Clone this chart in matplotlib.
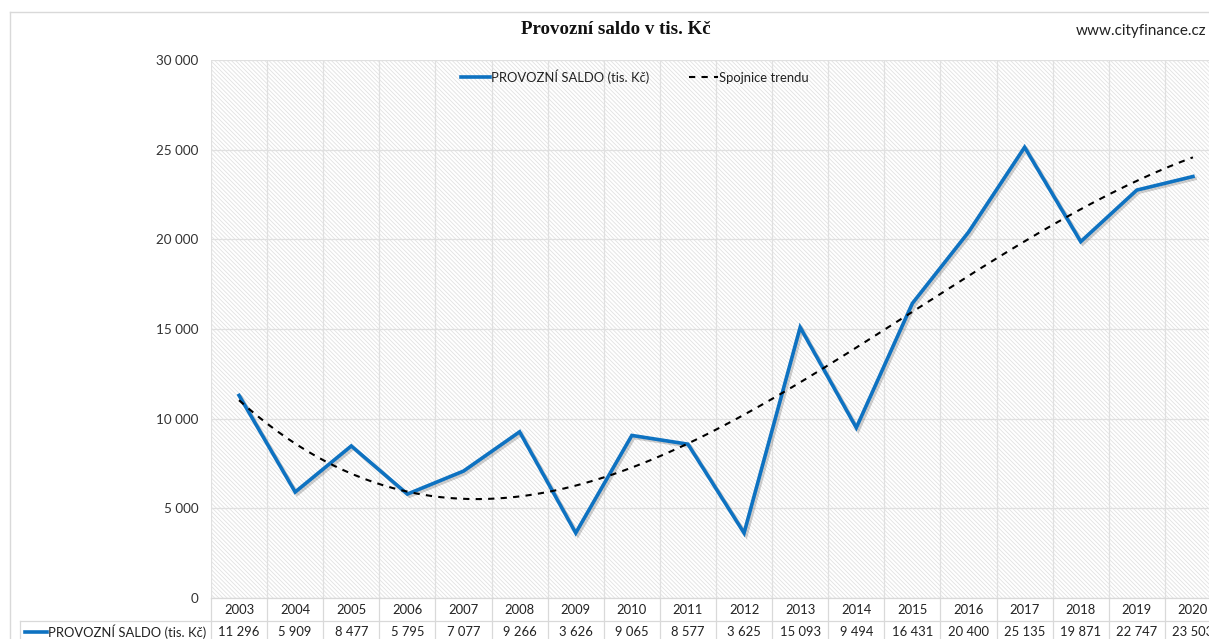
import numpy as np
import matplotlib
matplotlib.use("Agg")
import matplotlib.pyplot as plt
import matplotlib.patheffects as pe
from matplotlib.lines import Line2D

years = ["2003", "2004", "2005", "2006", "2007", "2008", "2009", "2010", "2011",
         "2012", "2013", "2014", "2015", "2016", "2017", "2018", "2019", "2020"]
saldo = [11296, 5909, 8477, 5795, 7077, 9266, 3626, 9065, 8577,
         3625, 15093, 9494, 16431, 20400, 25135, 19871, 22747, 23503]
series_label = "PROVOZNÍ SALDO (tis. Kč)"
trend_label = "Spojnice trendu"
title = "Provozní saldo v tis. Kč"
source = "www.cityfinance.cz"
yticks = [0, 5000, 10000, 15000, 20000, 25000, 30000]

W, H = 1209, 639
plt.rcParams['font.family'] = ['Lato', 'DejaVu Sans']
plt.rcParams['hatch.linewidth'] = 0.6
plt.rcParams['hatch.color'] = '#e2e2e2'

fig = plt.figure(figsize=(W / 100, H / 100), dpi=100)
fig.patch.set_facecolor('white')

def fx(px):
    return px / W

def fy(py):
    return 1 - py / H

left, right, top, bottom = 211, 1221, 60, 598
ax = fig.add_axes([fx(left), fy(bottom), fx(right - left), (bottom - top) / H])
ax.set_facecolor('white')
ax.patch.set_hatch('\\' * 8)
ax.patch.set_edgecolor('#e2e2e2')
ax.patch.set_linewidth(0)

n = len(years)
x = np.arange(n)
ax.set_xlim(-0.5, n - 0.5)
ax.set_ylim(0, 30000)

# grid
for b in np.arange(-0.5, n, 1.0):
    ax.axvline(b, color='#e0e0e0', lw=0.9, zorder=1)
for t in yticks:
    ax.axhline(t, color='#e0e0e0', lw=0.9, zorder=1)

for s in ax.spines.values():
    s.set_visible(False)
ax.set_xticks([])
ax.set_yticks(yticks)
ax.set_yticklabels([f"{t:,}".replace(",", " ") for t in yticks], fontsize=9.7, color='#333333')
ax.tick_params(axis='y', length=0, pad=9)

# data line with shadow
ax.plot(x, saldo, color='#0E72C1', lw=2.6, solid_joinstyle='miter', zorder=4,
        path_effects=[pe.SimpleLineShadow(offset=(1.5, -1.5), shadow_color='black', alpha=0.18),
                      pe.Normal()])

# polynomial trend line (Excel-style polynomial trendline)
coef = np.polyfit(x, saldo, 3)
xs = np.linspace(0, n - 1, 200)
ax.plot(xs, np.polyval(coef, xs), color='black', lw=1.5, ls=(0, (3, 3)), zorder=5)

# legend
handles = [Line2D([], [], color='#0E72C1', lw=2.6),
           Line2D([], [], color='black', lw=1.5, ls=(0, (3, 3)))]
leg = ax.legend(handles, [series_label, trend_label], loc='upper center', ncol=2,
                bbox_to_anchor=((635 - left) / (right - left), 1.0),
                frameon=False, fontsize=9.4, handlelength=2.2, handletextpad=0.1,
                columnspacing=3.0, borderaxespad=0.3)
for t in leg.get_texts():
    t.set_color('#222222')

# title and source
fig.text(fx(616), fy(30), title, ha='center', va='center', fontsize=13.6,
         fontweight='bold', family='Liberation Serif', color='#111111')
fig.text(fx(1076), fy(31), source, ha='left', va='center', fontsize=11, color='#222222')

# chart border
fig.add_artist(Line2D([fx(10), 1.0], [fy(12), fy(12)], color='#d9d9d9', lw=1))
fig.add_artist(Line2D([fx(10), fx(10)], [fy(12), 0], color='#d9d9d9', lw=1))

# data table
cw = (right - left) / n
row1_top, row_mid, row2_bot = 598, 621, 645
lc = '#d9d9d9'
for i in range(n + 1):
    xp = left + i * cw
    fig.add_artist(Line2D([fx(xp), fx(xp)], [fy(row1_top), fy(row2_bot)], color=lc, lw=0.9))
fig.add_artist(Line2D([fx(20), fx(20)], [fy(row_mid), fy(row2_bot)], color=lc, lw=0.9))
fig.add_artist(Line2D([fx(left), fx(right)], [fy(row1_top), fy(row1_top)], color=lc, lw=0.9))
fig.add_artist(Line2D([fx(20), fx(right)], [fy(row_mid), fy(row_mid)], color=lc, lw=0.9))
for i in range(n):
    xc = left + (i + 0.5) * cw
    fig.text(fx(xc), fy(610), years[i], ha='center', va='center', fontsize=9.4, color='#222222')
    fig.text(fx(xc), fy(632), f"{saldo[i]:,}".replace(",", " "), ha='center', va='center',
             fontsize=9.4, color='#222222')
fig.add_artist(Line2D([fx(25), fx(47)], [fy(632), fy(632)], color='#0E72C1', lw=2.6))
fig.text(fx(48), fy(632), series_label, ha='left', va='center', fontsize=9.4, color='#222222')

fig.savefig("out.png", dpi=100, facecolor='white')
